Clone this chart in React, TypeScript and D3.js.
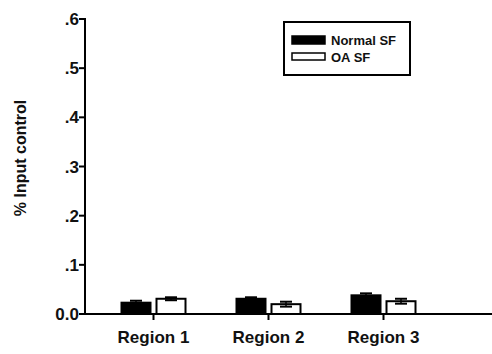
import React from "react";
import * as d3 from "d3";

const categories = ["Region 1", "Region 2", "Region 3"];
const seriesNames = ["Normal SF", "OA SF"];
const normalValues = [0.023, 0.031, 0.038];
const normalErrors = [0.004, 0.003, 0.004];
const oaValues = [0.031, 0.02, 0.026];
const oaErrors = [0.003, 0.005, 0.005];
const yTicks = [0, 0.1, 0.2, 0.3, 0.4, 0.5, 0.6];
const yTickLabels = ["0.0", ".1", ".2", ".3", ".4", ".5", ".6"];

const W = 492;
const H = 354;
const FONT = "'Liberation Sans', Arial, sans-serif";

export default function App() {
  const x0 = 85;
  const x1 = 492;
  const y = d3.scaleLinear().domain([0, 0.6]).range([314, 19]);
  const xBand = d3.scaleBand<string>().domain(categories).range([96, 441]).paddingInner(0).paddingOuter(0);
  const center = (c: string) => (xBand(c) as number) + xBand.bandwidth() / 2;
  const barW = 29;
  const gap = 6;
  const series = [
    { name: seriesNames[0], values: normalValues, errors: normalErrors, fill: "#000" },
    { name: seriesNames[1], values: oaValues, errors: oaErrors, fill: "#fff" },
  ];

  return (
    <svg width={W} height={H} style={{ position: "absolute", left: 0, top: 0, background: "#fff" }}>
      <rect x={0} y={0} width={W} height={H} fill="#fff" />
      {categories.map((c, i) => {
        const cx = center(c);
        return series.map((s, j) => {
          const bx = j === 0 ? cx - gap / 2 - barW : cx + gap / 2;
          const v = s.values[i];
          const e = s.errors[i];
          const top = y(v);
          const bmid = bx + barW / 2;
          return (
            <g key={c + s.name}>
              <rect x={bx} y={top} width={barW} height={y(0) - top} fill={s.fill} stroke="#000" strokeWidth={2} />
              <line x1={bmid} x2={bmid} y1={y(v + e)} y2={y(v - e)} stroke="#000" strokeWidth={1.5} />
              <line x1={bmid - 6} x2={bmid + 6} y1={y(v + e)} y2={y(v + e)} stroke="#000" strokeWidth={2} />
              <line x1={bmid - 6} x2={bmid + 6} y1={y(v - e)} y2={y(v - e)} stroke="#000" strokeWidth={2} />
            </g>
          );
        });
      })}
      <line x1={x0} x2={x0} y1={y(0.6) - 1} y2={y(0) + 1} stroke="#000" strokeWidth={2} />
      {yTicks.map((t, i) => (
        <g key={t}>
          <line x1={x0 - 6} x2={x0} y1={y(t)} y2={y(t)} stroke="#000" strokeWidth={2} />
          <text x={x0 - 6} y={y(t)} dy="0.36em" textAnchor="end" fontFamily={FONT} fontWeight="bold" fontSize={17} fill="#111">
            {yTickLabels[i]}
          </text>
        </g>
      ))}
      <line x1={x0 - 1} x2={x1} y1={y(0)} y2={y(0)} stroke="#000" strokeWidth={2} />
      {categories.map((c) => (
        <g key={c}>
          <line x1={center(c)} x2={center(c)} y1={y(0)} y2={y(0) + 6} stroke="#000" strokeWidth={2} />
          <text x={center(c)} y={343} textAnchor="middle" fontFamily={FONT} fontWeight="bold" fontSize={17} fill="#111">
            {c}
          </text>
        </g>
      ))}
      <text transform={`translate(26, 158) rotate(-90)`} textAnchor="middle" fontFamily={FONT} fontWeight="bold" fontSize={16} fill="#111">
        % Input control
      </text>
      <rect x={284} y={22} width={126} height={53} fill="#fff" stroke="#000" strokeWidth={2} />
      {series.map((s, j) => (
        <g key={s.name}>
          <rect x={292} y={36 + j * 17} width={33} height={j === 0 ? 8 : 7} fill={s.fill} stroke="#000" strokeWidth={1.5} />
          <text x={331} y={45 + j * 17} fontFamily={FONT} fontWeight="bold" fontSize={13} fill="#111">
            {s.name}
          </text>
        </g>
      ))}
    </svg>
  );
}
